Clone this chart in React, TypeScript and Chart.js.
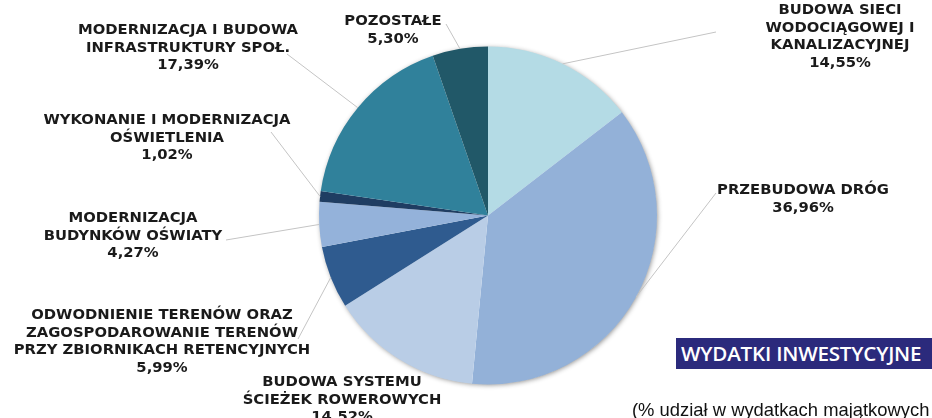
import React, { useEffect, useRef } from "react";
import { Chart, registerables } from "chart.js";

Chart.register(...registerables);

// ---- data ----
const categories: string[][] = [
  ["BUDOWA SIECI", "WODOCIĄGOWEJ I", "KANALIZACYJNEJ"],
  ["PRZEBUDOWA DRÓG"],
  ["BUDOWA SYSTEMU", "ŚCIEŻEK ROWEROWYCH"],
  ["ODWODNIENIE TERENÓW ORAZ", "ZAGOSPODAROWANIE TERENÓW", "PRZY ZBIORNIKACH RETENCYJNYCH"],
  ["MODERNIZACJA", "BUDYNKÓW OŚWIATY"],
  ["WYKONANIE I MODERNIZACJA", "OŚWIETLENIA"],
  ["MODERNIZACJA I BUDOWA", "INFRASTRUKTURY SPOŁ."],
  ["POZOSTAŁE"],
];
const values = [14.55, 36.96, 14.52, 5.99, 4.27, 1.02, 17.39, 5.3];
const colors = ["#b4dbe5", "#93b1d8", "#b9cde6", "#2f5b8f", "#94b2da", "#1f3d62", "#30819b", "#215868"];
const titleText = "WYDATKI INWESTYCYJNE";
const subtitleText = "(% udział w wydatkach majątkowych";

// ---- label layout (x = text centre, y = first line centre, lx/ly = leader-line start) ----
const labelLayout = [
  { x: 840, y: 10, lx: 716, ly: 32 },
  { x: 803, y: 190.5, lx: 716, ly: 193 },
  { x: 342, y: 382, lx: null, ly: null },
  { x: 162, y: 315, lx: 298, ly: 339 },
  { x: 133, y: 218, lx: 226, ly: 240 },
  { x: 167, y: 120, lx: 271, ly: 132 },
  { x: 188, y: 30, lx: 287, ly: 54 },
  { x: 393, y: 21.5, lx: 446, ly: 24 },
];
const LINE_H = 17.7;

const fmt = (v: number) => v.toFixed(2).replace(".", ",") + "%";

const labelPlugin = {
  id: "pieLabels",
  beforeDatasetsDraw(chart: any) {
    const meta = chart.getDatasetMeta(0);
    const arc = meta.data[0];
    if (!arc) return;
    const ctx = chart.ctx;
    ctx.save();
    ctx.shadowColor = "rgba(0,0,0,0.45)";
    ctx.shadowBlur = 5;
    ctx.shadowOffsetX = 1;
    ctx.shadowOffsetY = 1;
    ctx.fillStyle = "#ffffff";
    ctx.beginPath();
    ctx.arc(arc.x, arc.y, arc.outerRadius - 0.5, 0, Math.PI * 2);
    ctx.fill();
    ctx.restore();
  },
  afterDatasetsDraw(chart: any) {
    const meta = chart.getDatasetMeta(0);
    const ctx = chart.ctx;
    ctx.save();
    meta.data.forEach((arc: any, i: number) => {
      const lay = labelLayout[i];
      const mid = (arc.startAngle + arc.endAngle) / 2;
      const px = arc.x + Math.cos(mid) * arc.outerRadius;
      const py = arc.y + Math.sin(mid) * arc.outerRadius;
      if (lay.lx !== null) {
        ctx.strokeStyle = "#c4c4c4";
        ctx.lineWidth = 1;
        ctx.beginPath();
        ctx.moveTo(lay.lx, lay.ly);
        ctx.lineTo(px, py);
        ctx.stroke();
      }
      const lines = [...categories[i], fmt(values[i])];
      ctx.fillStyle = "#1a1a1a";
      ctx.font = "bold 14.8px 'DejaVu Sans'";
      ctx.textAlign = "center";
      ctx.textBaseline = "middle";
      lines.forEach((t, k) => ctx.fillText(t, lay.x, lay.y + k * LINE_H));
    });
    ctx.restore();
  },
};

export default function App() {
  const ref = useRef<HTMLCanvasElement>(null);
  useEffect(() => {
    document.body.style.margin = "0";
    const chart = new Chart(ref.current!, {
      type: "pie",
      data: {
        labels: categories.map((c) => c.join(" ")),
        datasets: [
          {
            data: values,
            backgroundColor: colors,
            borderWidth: 0,
          },
        ],
      },
      options: {
        animation: false,
        responsive: false,
        maintainAspectRatio: false,
        layout: { padding: { left: 300, right: 256, top: 46.5, bottom: 33.5 } },
        plugins: {
          legend: { display: false },
          tooltip: { enabled: false },
        },
      },
      plugins: [labelPlugin],
    });
    return () => chart.destroy();
  }, []);

  return (
    <div style={{ position: "fixed", left: 0, top: 0, width: 932, height: 418, overflow: "hidden", background: "#fff" }}>
      <canvas ref={ref} width={932} height={418} style={{ position: "absolute", left: 0, top: 0 }} />
      <div
        style={{
          position: "absolute",
          left: 676,
          top: 338,
          width: 260,
          height: 31,
          background: "#2b2a7c",
          color: "#fff",
          fontFamily: "'Open Sans', Lato, sans-serif",
          fontWeight: 600,
          fontSize: 20.6,
          lineHeight: "31px",
          paddingLeft: 5,
          boxSizing: "border-box",
          whiteSpace: "nowrap",
          letterSpacing: -0.2,
        }}
      >
        {titleText}
      </div>
      <div
        style={{
          position: "absolute",
          left: 632,
          top: 399,
          fontFamily: "'Liberation Sans', Arial, sans-serif",
          fontSize: 18.4,
          lineHeight: "22px",
          color: "#111",
          whiteSpace: "nowrap",
        }}
      >
        {subtitleText}
      </div>
    </div>
  );
}
